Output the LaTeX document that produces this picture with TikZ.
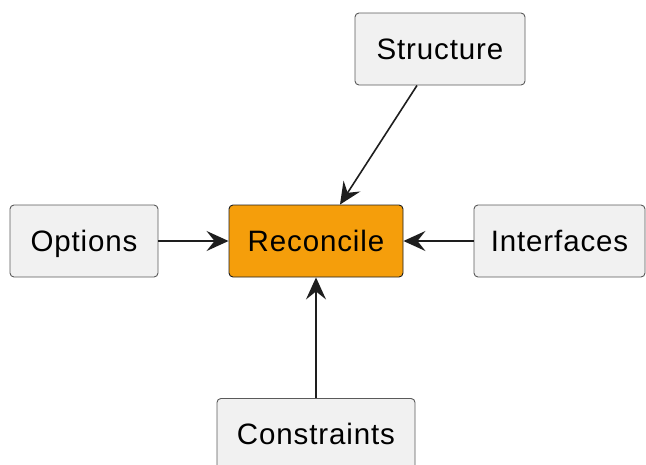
\documentclass[tikz,border=0pt]{standalone}
\usepackage{fontspec}
\setmainfont{Liberation Sans}
\usepackage{tikz}
\usetikzlibrary{arrows.meta}

\definecolor{boxfill}{HTML}{F1F1F1}
\definecolor{boxline}{HTML}{5A5A5A}
\definecolor{hubfill}{HTML}{F59E0B}
\definecolor{linkcol}{HTML}{1E1E1E}

\tikzset{
  part/.style={draw=boxline, fill=boxfill, line width=0.9pt, rounded corners=4pt,
    minimum height=72pt, inner sep=0pt, text height=21pt, text depth=1pt,
    font=\fontsize{29.5}{34}\selectfont\addfontfeatures{LetterSpace=3}},
  hub/.style={part, draw=linkcol, fill=hubfill},
  link/.style={draw=linkcol, line width=1.6pt}
}

\begin{document}
\begin{tikzpicture}[x=1pt,y=-1pt,>={Stealth[length=22pt,width=20pt,inset=8pt]}]
  % page frame
  \useasboundingbox (0,0) rectangle (646,464);

  % the five boxes
  \node[hub, minimum width=174pt]  (reconcile)   at (316,241) {Reconcile};
  \node[part, minimum width=170pt] (structure)   at (440,49)  {Structure};
  \node[part, minimum width=148pt] (options)     at (84,241)  {Options};
  \node[part, minimum width=171pt] (interfaces)  at (559.5,241) {Interfaces};
  \node[part, minimum width=198pt, anchor=north] (constraints) at (316,398) {Constraints};

  % links into the hub
  \draw[link,->] (structure.south) ++(-23,0) coordinate (s0) (s0) -- (reconcile.north -| 340,0);
  \draw[link,->] (options) -- (reconcile);
  \draw[link,->] (interfaces) -- (reconcile);
  \draw[link,->] (constraints) -- (reconcile);
\end{tikzpicture}
\end{document}
